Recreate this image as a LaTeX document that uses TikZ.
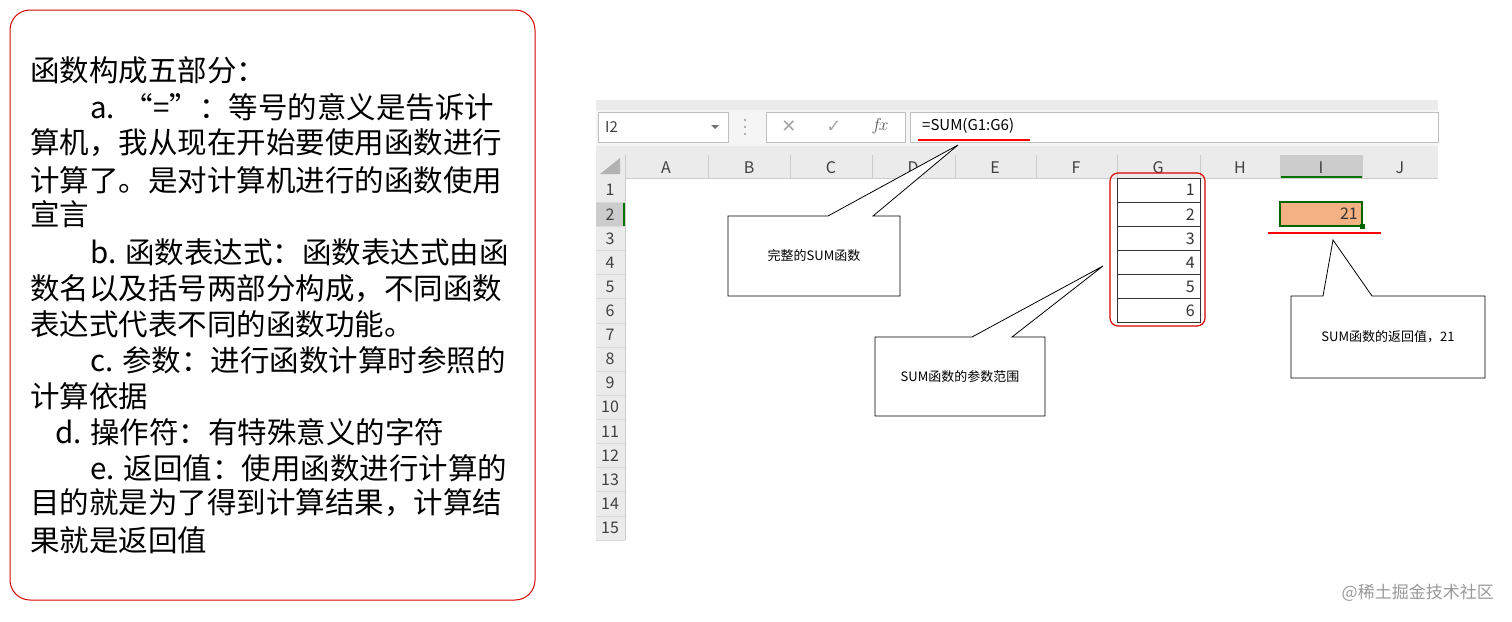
\documentclass[tikz,border=0pt]{standalone}
\usepackage{fontspec}
\setmainfont{Noto Sans CJK SC}
\newfontfamily\symf{DejaVu Sans}
\begin{document}
\begin{tikzpicture}[x=1pt,y=-1pt,
  ln/.style={anchor=west,inner sep=0pt,font=\fontsize{29.5}{29.5}\selectfont},
  hdr/.style={font=\fontsize{16}{16}\selectfont\color{black!75},inner sep=0pt},
  rn/.style={font=\fontsize{16}{16}\selectfont\color{black!75},inner sep=0pt},
  callout/.style={draw=black,fill=white,line width=0.8pt},
  ctext/.style={font=\fontsize{13}{13}\selectfont,inner sep=0pt},
  gcell/.style={draw=black!80,line width=0.8pt}]
\useasboundingbox (0,0) rectangle (1512,621);
\fill[white] (0,0) rectangle (1512,621);
% left panel
\draw[red!85!black,line width=1pt,rounded corners=20pt] (10,10) rectangle (535,600);
\node[ln] (l1) at (30,70) {函数构成五部分：};
\node[ln] (l2) at (90,107) {a. “=”：等号的意义是告诉计};
\node[ln] (l3) at (30,143) {算机，我从现在开始要使用函数进行};
\node[ln] (l4) at (30,180) {计算了。是对计算机进行的函数使用};
\node[ln] (l5) at (30,214) {宣言};
\node[ln] (l6) at (90,252) {b. 函数表达式：函数表达式由函};
\node[ln] (l7) at (30,289) {数名以及括号两部分构成，不同函数};
\node[ln] (l8) at (30,324) {表达式代表不同的函数功能。};
\node[ln] (l9) at (90,360) {c. 参数：进行函数计算时参照的};
\node[ln] (l10) at (30,396) {计算依据};
\node[ln] (l11) at (55,432) {d. 操作符：有特殊意义的字符};
\node[ln] (l12) at (90,468) {e. 返回值：使用函数进行计算的};
\node[ln] (l13) at (30,503) {目的就是为了得到计算结果，计算结};
\node[ln] (l14) at (30,540) {果就是返回值};
% spreadsheet toolbar
\fill[black!8] (596,100) rectangle (1438,155);
\fill[black!4] (596,110) rectangle (1438,146);
\draw[black!25,fill=white] (598,112) rectangle (728,142);
\node[anchor=west,inner sep=0pt,font=\fontsize{15}{15}\selectfont\color{black!75}] (nb) at (605,127) {I2};
\fill[black!55] (711,125) -- (719,125) -- (715,129) -- cycle;
\foreach \yy in {120,127,134} \fill[black!40] (745,\yy) circle (1.2);
\draw[black!25,fill=white] (766,112) rectangle (905,142);
\node[font=\symf\fontsize{18}{18}\selectfont\color{black!35},inner sep=0pt] (xx) at (789,127) {✕};
\node[font=\symf\fontsize{18}{18}\selectfont\color{black!35},inner sep=0pt] (ck) at (834,127) {✓};
\node[font=\fontsize{18}{18}\selectfont\color{black!65},inner sep=0pt] (fx) at (880,126) {$f\!x$};
\draw[black!25,fill=white] (910,112) rectangle (1438,142);
\node[anchor=west,inner sep=0pt,font=\fontsize{15}{15}\selectfont] (fm) at (922,126) {=SUM(G1:G6)};
\draw[red,line width=1.2pt] (918,140) -- (1030,140);
% column headers
\fill[black!8] (596,155) rectangle (1438,178);
\fill[black!20] (1280,155) rectangle (1362,178);
\draw[green!45!black,line width=1.5pt] (1280,177) -- (1362,177);
\fill[black!30] (600,174) -- (620,174) -- (620,158) -- cycle;
\draw[black!20] (596,178) -- (1438,178);
\foreach \xx in {625,708,790,872,955,1036,1117,1200,1280,1362} \draw[black!20] (\xx,155) -- (\xx,178);
\foreach \c/\xx in {A/666,B/749,C/831,D/913,E/995,F/1076,G/1158,H/1240,I/1321,J/1400}
  \node[hdr] (h\c) at (\xx,168) {\c};
% row headers
\fill[black!8] (596,178) rectangle (625,540);
\fill[black!20] (596,202) rectangle (625,226);
\draw[green!45!black,line width=1.5pt] (624,202) -- (624,226);
\draw[black!20] (625,178) -- (625,540);
\foreach \r in {1,...,15} {
  \pgfmathsetmacro\yc{178+(\r-0.5)*24.13}
  \pgfmathsetmacro\yb{178+\r*24.13}
  \node[rn] (r\r) at (610,\yc) {\r};
  \draw[black!15] (596,\yb) -- (625,\yb);
}
% G column cells
\foreach \r in {1,...,6} {
  \pgfmathsetmacro\yt{178+(\r-1)*24.13}
  \pgfmathsetmacro\yb{178+\r*24.13}
  \pgfmathsetmacro\yc{178+(\r-0.5)*24.13}
  \draw[gcell] (1117,\yt) rectangle (1200,\yb);
  \node[anchor=east,inner sep=0pt,font=\fontsize{16}{16}\selectfont\color{black!80}] (g\r) at (1195,\yc) {\r};
}
\draw[red!85!black,line width=1.2pt,rounded corners=8pt] (1110,173) rectangle (1205,326);
% I2
\draw[green!40!black,line width=1.5pt,fill={rgb,255:red,244;green,177;blue,131}] (1280,202) rectangle (1362,226);
\fill[green!40!black] (1360,224) rectangle (1365,229);
\node[anchor=east,inner sep=0pt,font=\fontsize{16}{16}\selectfont\color{black!80}] (i2) at (1358,214) {21};
\draw[red,line width=1.2pt] (1268,233) -- (1381,233);
% callouts
\draw[callout] (728,216) -- (828,216) -- (958,145) -- (873,216) -- (900,216) -- (900,296) -- (728,296) -- cycle;
\node[ctext] (c1) at (814,256) {完整的SUM函数};
\draw[callout] (875,337) -- (972,337) -- (1103,266) -- (1012,337) -- (1045,337) -- (1045,416) -- (875,416) -- cycle;
\node[ctext] (c2) at (960,377) {SUM函数的参数范围};
\draw[callout] (1291,296) -- (1323,296) -- (1333,240) -- (1372,296) -- (1485,296) -- (1485,378) -- (1291,378) -- cycle;
\node[ctext] (c3) at (1388,337) {SUM函数的返回值，21};
% watermark
\node[anchor=east,inner sep=0pt,font=\fontsize{17}{17}\selectfont\color{black!40}] (wm) at (1494,593) {@稀土掘金技术社区};
\end{tikzpicture}
\end{document}
